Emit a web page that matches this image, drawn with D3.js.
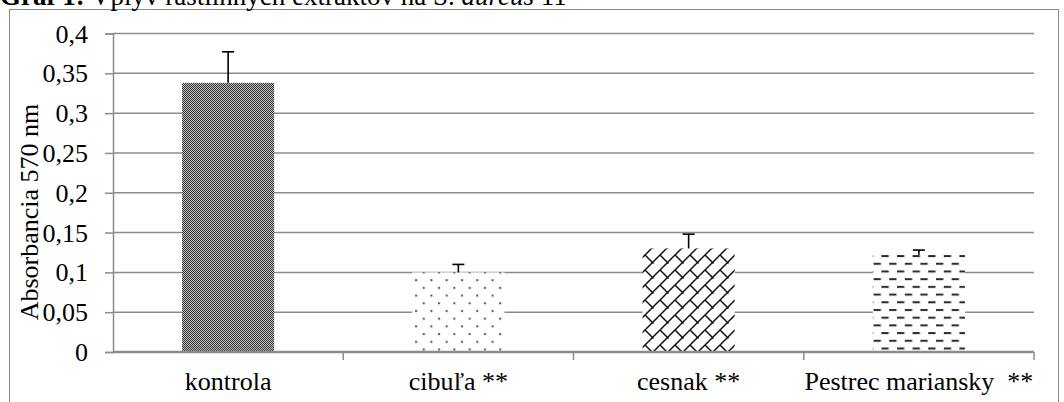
<!DOCTYPE html>
<html><head><meta charset="utf-8">
<script src="https://cdn.jsdelivr.net/npm/d3@7"></script>
<style>body{margin:0;background:#fff}svg{display:block}text{font-family:"Liberation Serif","Times New Roman",serif;fill:#000}</style>
</head><body>
<script>
const categories = ["kontrola", "cibuľa **", "cesnak **", "Pestrec mariansky  **"];
const values = [0.338, 0.100, 0.130, 0.122];
const errors = [0.039, 0.010, 0.018, 0.006];
const yTicks = [0, 0.05, 0.1, 0.15, 0.2, 0.25, 0.3, 0.35, 0.4];
const yTickLabels = ["0", "0,05", "0,1", "0,15", "0,2", "0,25", "0,3", "0,35", "0,4"];
const patterns = ["pCheck", "pDots", "pBrick", "pDash"];

const W = 1064, H = 402;
const svg = d3.select("body").append("svg").attr("width", W).attr("height", H);
const defs = svg.append("defs");

// checker pattern
let p = defs.append("pattern").attr("id","pCheck").attr("patternUnits","userSpaceOnUse").attr("width",4).attr("height",4);
p.append("rect").attr("width",4).attr("height",4).attr("fill","#bdbdbd");
[[0,0],[2,0],[1,1],[3,1],[0,2],[2,2],[1,3],[3,3]].forEach(([x,y])=>p.append("rect").attr("x",x).attr("y",y).attr("width",1).attr("height",1).attr("fill","#383838"));
// dots
p = defs.append("pattern").attr("id","pDots").attr("patternUnits","userSpaceOnUse").attr("width",15.3).attr("height",15.4);
p.append("rect").attr("width",15.3).attr("height",15.4).attr("fill","#fff");
p.append("rect").attr("x",2).attr("y",2).attr("width",2).attr("height",2).attr("fill","#555");
p.append("rect").attr("x",9.65).attr("y",9.7).attr("width",2).attr("height",2).attr("fill","#555");
// diagonal brick
p = defs.append("pattern").attr("id","pBrick").attr("patternUnits","userSpaceOnUse").attr("width",15).attr("height",15);
p.append("rect").attr("width",15).attr("height",15).attr("fill","#fff");
p.append("path").attr("d","M-1,16 L16,-1 M-1,1 L1,-1 M14,16 L16,14 M-1,-1 L8.5,8.5")
  .attr("stroke","#111").attr("stroke-width",1.5).attr("fill","none");
// dashes
p = defs.append("pattern").attr("id","pDash").attr("patternUnits","userSpaceOnUse").attr("width",15.6).attr("height",15.4);
p.append("rect").attr("width",15.6).attr("height",15.4).attr("fill","#fff");
p.append("rect").attr("x",0).attr("y",1).attr("width",7.3).attr("height",2).attr("fill","#2a2a2a");
p.append("rect").attr("x",7.8).attr("y",8.7).attr("width",7.3).attr("height",2).attr("fill","#2a2a2a");

// frame
svg.append("rect").attr("x",9.5).attr("y",9.5).attr("width",1049).attr("height",420).attr("fill","none").attr("stroke","#8a8a8a").attr("stroke-width",1);

// title
const t = svg.append("text").attr("x",0).attr("y",5).style("font-size","27px");
t.append("tspan").style("font-weight","bold").text("Graf 1:");
t.append("tspan").text(" Vplyv rastlinných extraktov na S. ");
t.append("tspan").style("font-style","italic").text("aureus");
t.append("tspan").text(" 11");

const x = d3.scaleBand().domain(categories).range([113, 1034]).paddingInner(0.6).paddingOuter(0.3);
const y = d3.scaleLinear().domain([0, 0.4]).range([352, 33.5]);

// gridlines
svg.append("g").selectAll("line").data(yTicks.slice(1)).join("line")
  .attr("x1",113).attr("x2",1034).attr("y1",d=>y(d)).attr("y2",d=>y(d))
  .attr("stroke","#8c8c8c").attr("stroke-width",1.5);

// y axis
const ya = svg.append("g").attr("transform","translate(113,0)")
  .call(d3.axisLeft(y).tickValues(yTicks).tickFormat((d,i)=>yTickLabels[i]).tickSize(8).tickPadding(17));
ya.select(".domain").attr("stroke","#8c8c8c").attr("stroke-width",1.5);
ya.selectAll(".tick line").attr("stroke","#8c8c8c").attr("stroke-width",1.5);
ya.selectAll(".tick text").style("font-size","26px").attr("font-family",null).attr("fill","#000").attr("dy","0.33em");

// bars
svg.append("g").selectAll("rect").data(values).join("rect")
  .attr("x",(d,i)=>x(categories[i])).attr("width",x.bandwidth())
  .attr("y",d=>y(d)).attr("height",d=>y(0)-y(d))
  .attr("fill",(d,i)=>`url(#${patterns[i]})`);

// error bars
const eb = svg.append("g").attr("stroke","#000").attr("stroke-width",1.6);
values.forEach((v,i)=>{
  const cx = x(categories[i]) + x.bandwidth()/2;
  eb.append("line").attr("x1",cx).attr("x2",cx).attr("y1",y(v)).attr("y2",y(v+errors[i]));
  eb.append("line").attr("x1",cx-6).attr("x2",cx+6).attr("y1",y(v+errors[i])).attr("y2",y(v+errors[i]));
});

// x axis
const xa = svg.append("g").attr("transform","translate(0,352)");
xa.append("line").attr("x1",113).attr("x2",1034).attr("stroke","#8c8c8c").attr("stroke-width",2.5);
const bounds = categories.map(c=>x(c) - x.step()*x.paddingOuter()).concat([1034]).slice(1);
xa.selectAll(".xt").data(bounds).join("line").attr("class","xt")
  .attr("x1",d=>d).attr("x2",d=>d).attr("y1",0).attr("y2",8).attr("stroke","#8c8c8c").attr("stroke-width",1.5);
xa.selectAll(".xl").data(categories).join("text").attr("class","xl")
  .attr("x",d=>x(d)+x.bandwidth()/2).attr("y",38).attr("text-anchor","middle")
  .style("font-size","26px").style("white-space","pre").text(d=>d);

// y label
svg.append("text").attr("transform","translate(38,212) rotate(-90)").attr("text-anchor","middle")
  .style("font-size","26px").text("Absorbancia 570 nm");
</script>
</body></html>
